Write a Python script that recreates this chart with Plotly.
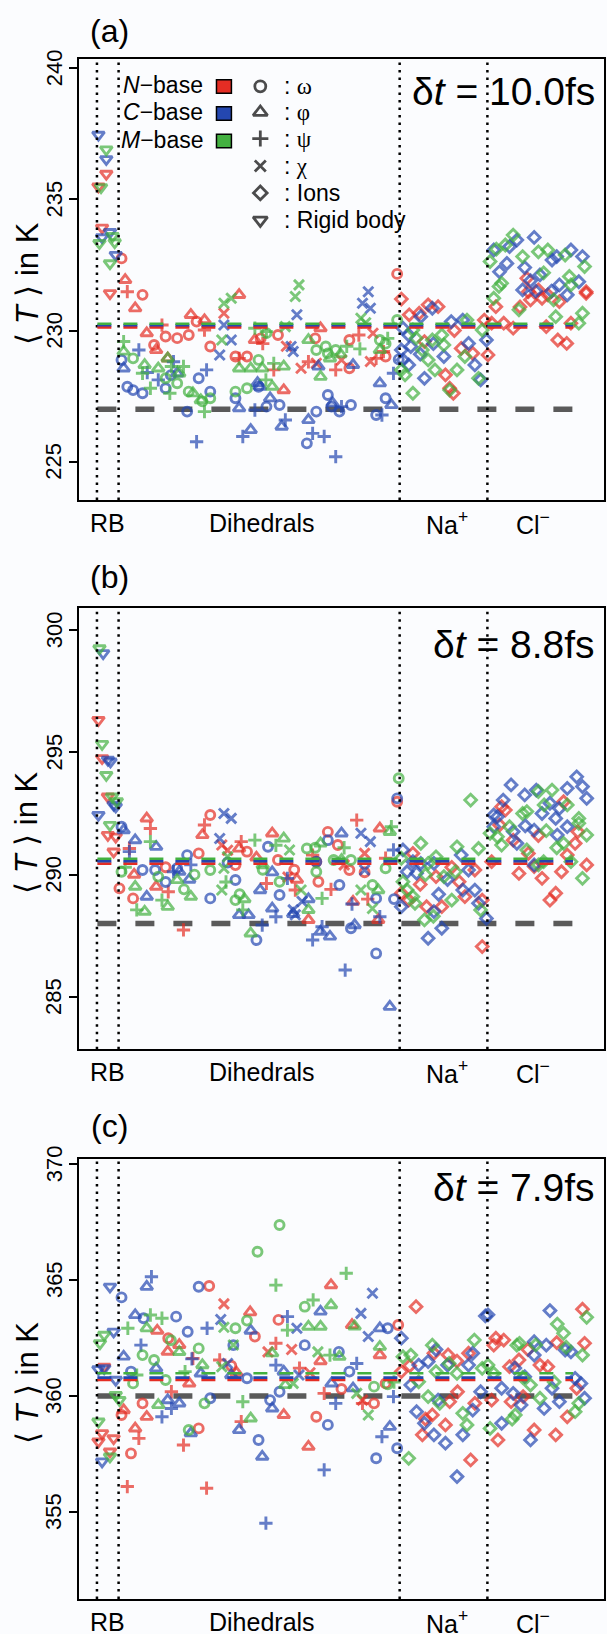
import plotly.graph_objects as go

# ---------------------------------------------------------------- page geometry
W, H = 607, 1634
ML, MR, MT, MB = 79, 1, 59, 35
PW, PH = W - ML - MR, H - MT - MB


def px_x(x):
    return (x - ML) / PW


def px_y(y):
    return (H - MB - y) / PH


def clamp01(v):
    return min(1.0, max(0.0, v))


RED, BLUE, GREEN = "#e42d24", "#2447b0", "#43b040"
BG = "#fbfcfe"
FONT = "Liberation Sans"

# ---------------------------------------------------------------- data
# each entry: (position along the degree-of-freedom axis, <T> in K, kind)
# kind: o = omega, t = phi, + = psi, x = chi, d = ion, v = rigid body

a_nbase = [
    (3.7, 235.49, "v"), (5.2, 235.97, "v"), (4.4, 233.92, "v"), (5.9, 231.42, "v"),
    (8.1, 232.75, "o"), (12.1, 231.36, "o"), (14.3, 229.45, "o"), (16.5, 229.77, "o"),
    (18.7, 229.71, "o"), (20.9, 229.83, "o"), (22.4, 230.34, "o"), (25.0, 229.39, "o"),
    (29.8, 229.01, "o"), (32.0, 229.01, "o"), (34.6, 229.70, "o"), (37.9, 229.83, "o"),
    (45.0, 229.70, "o"), (51.5, 228.56, "o"), (51.5, 229.64, "o"), (58.4, 229.01, "o"),
    (60.6, 232.16, "o"),
    (8.8, 231.93, "t"), (10.7, 230.85, "t"), (12.9, 229.90, "t"), (14.7, 229.26, "t"),
    (16.9, 228.94, "t"), (21.3, 230.60, "t"), (23.9, 230.40, "t"), (30.5, 231.36, "t"),
    (33.5, 229.64, "t"), (39.0, 227.73, "t"), (46.0, 230.09, "t"),
    (9.2, 231.48, "+"), (15.8, 230.21, "+"), (23.9, 230.02, "+"), (30.5, 228.94, "+"),
    (35.0, 229.50, "+"), (37.1, 228.50, "+"), (43.7, 228.81, "+"), (48.9, 228.50, "+"),
    (53.3, 229.83, "+"), (56.6, 228.94, "+"), (58.0, 229.20, "+"),
    (27.6, 230.66, "x"), (39.5, 229.40, "x"), (42.3, 228.56, "x"), (45.2, 228.75, "x"),
    (50.0, 228.88, "x"), (55.5, 228.82, "x"), (56.0, 229.90, "x"),
    (61.4, 231.20, "d"), (62.9, 230.60, "d"), (64.8, 230.66, "d"), (66.5, 230.98, "d"),
    (68.4, 230.91, "d"), (65.8, 229.58, "d"), (69.8, 228.31, "d"), (70.6, 227.80, "d"),
    (71.3, 227.61, "d"), (72.8, 229.32, "d"), (75.0, 229.13, "d"), (77.9, 229.07, "d"),
    (77.2, 230.40, "d"), (71.5, 230.00, "d"),
    (85.3, 231.99, "d"), (85.6, 231.48, "d"), (87.5, 231.55, "d"), (89.3, 231.36, "d"),
    (96.6, 231.48, "d"), (79.4, 230.91, "d"), (78.6, 230.28, "d"), (80.9, 230.28, "d"),
    (82.7, 230.09, "d"), (86.0, 231.17, "d"), (88.2, 231.23, "d"), (89.0, 230.15, "d"),
    (91.2, 229.64, "d"), (92.9, 229.51, "d"), (93.7, 230.28, "d"), (96.6, 231.42, "d"),
    (84.0, 230.90, "d"), (91.5, 231.10, "d"),
]

a_cbase = [
    (3.7, 237.46, "v"), (5.2, 236.53, "v"), (5.9, 233.75, "v"), (4.4, 233.55, "v"),
    (7.0, 232.88, "v"),
    (8.1, 228.88, "o"), (9.2, 227.86, "o"), (10.3, 227.73, "o"), (12.1, 227.61, "o"),
    (16.5, 227.80, "o"), (17.5, 228.30, "o"), (20.6, 226.91, "o"), (22.8, 228.18, "o"),
    (25.0, 227.67, "o"), (29.8, 227.42, "o"), (34.2, 227.86, "o"), (35.7, 227.10, "o"),
    (38.2, 227.16, "o"), (43.4, 225.70, "o"), (45.2, 226.91, "o"), (47.4, 227.54, "o"),
    (48.1, 227.10, "o"), (49.6, 226.91, "o"), (51.8, 227.16, "o"), (56.6, 226.78, "o"),
    (58.4, 227.42, "o"), (60.9, 228.90, "o"),
    (8.5, 228.56, "t"), (18.7, 228.37, "t"), (30.5, 227.04, "t"), (32.7, 226.21, "t"),
    (34.0, 228.00, "t"), (34.5, 227.86, "t"), (36.4, 227.42, "t"), (38.6, 226.34, "t"),
    (43.7, 226.59, "t"), (45.6, 228.63, "t"), (48.3, 227.23, "t"), (52.2, 228.69, "t"),
    (57.3, 227.99, "t"), (59.5, 227.16, "t"),
    (11.4, 229.26, "+"), (13.0, 228.40, "+"), (15.1, 228.12, "+"), (18.0, 228.81, "+"),
    (22.4, 225.76, "+"), (24.3, 228.50, "+"), (31.2, 225.96, "+"), (33.5, 226.97, "+"),
    (39.3, 226.59, "+"), (44.5, 226.08, "+"), (46.7, 225.96, "+"), (48.9, 225.19, "+"),
    (50.0, 227.10, "+"), (57.7, 226.78, "+"), (59.9, 228.37, "+"),
    (26.8, 229.07, "x"), (27.6, 230.21, "x"), (29.0, 229.64, "x"), (40.4, 229.39, "x"),
    (40.8, 229.20, "x"), (41.5, 230.60, "x"), (54.0, 231.04, "x"), (55.1, 231.48, "x"),
    (55.5, 230.85, "x"),
    (61.7, 230.09, "d"), (62.8, 229.83, "d"), (65.1, 230.53, "d"), (67.3, 230.85, "d"),
    (61.4, 229.26, "d"), (63.2, 229.39, "d"), (61.7, 228.88, "d"), (62.8, 228.69, "d"),
    (65.8, 228.18, "d"), (69.5, 229.01, "d"), (70.9, 230.34, "d"), (73.1, 230.40, "d"),
    (74.2, 229.51, "d"), (75.4, 228.69, "d"), (76.5, 228.12, "d"), (77.6, 229.64, "d"),
    (67.5, 229.50, "d"), (65.0, 229.10, "d"),
    (79.0, 233.07, "d"), (80.1, 232.24, "d"), (81.5, 232.56, "d"), (83.4, 233.45, "d"),
    (82.0, 233.20, "d"), (84.9, 232.40, "d"), (86.7, 233.55, "d"), (87.8, 232.12, "d"),
    (90.1, 232.69, "d"), (91.0, 232.82, "d"), (93.7, 233.07, "d"), (95.9, 232.82, "d"),
    (95.2, 231.86, "d"), (91.5, 231.74, "d"), (84.5, 231.55, "d"), (87.0, 231.50, "d"),
    (90.0, 231.50, "d"), (93.0, 231.36, "d"), (86.0, 231.90, "d"),
]

a_mbase = [
    (5.2, 236.90, "v"), (4.2, 235.46, "v"), (3.9, 233.33, "v"), (6.8, 233.36, "v"),
    (6.4, 233.60, "v"), (5.9, 232.56, "v"),
    (10.3, 228.94, "o"), (16.5, 228.18, "o"), (18.7, 227.99, "o"), (20.9, 227.67, "o"),
    (23.5, 227.30, "o"), (25.0, 227.42, "o"), (29.8, 227.67, "o"), (32.0, 227.80, "o"),
    (34.2, 228.88, "o"), (35.7, 229.90, "o"), (45.2, 229.26, "o"), (47.0, 229.39, "o"),
    (47.4, 229.13, "o"), (48.9, 229.26, "o"), (57.3, 229.64, "o"), (58.4, 229.50, "o"),
    (60.6, 230.40, "o"),
    (8.5, 229.20, "t"), (12.5, 228.69, "t"), (15.1, 228.56, "t"), (16.9, 228.94, "t"),
    (19.1, 228.37, "t"), (21.7, 227.61, "t"), (23.2, 227.35, "t"), (30.5, 228.56, "t"),
    (32.7, 228.56, "t"), (34.9, 228.56, "t"), (36.8, 227.86, "t"), (39.0, 228.63, "t"),
    (43.7, 229.64, "t"), (46.0, 228.24, "t"), (47.8, 228.94, "t"), (49.8, 229.10, "t"),
    (57.3, 229.26, "t"),
    (8.5, 229.58, "+"), (12.1, 228.37, "+"), (13.6, 227.80, "+"), (17.3, 227.61, "+"),
    (17.6, 228.63, "+"), (19.9, 228.63, "+"), (23.9, 226.91, "+"), (33.5, 230.09, "+"),
    (35.6, 228.12, "+"), (35.7, 229.96, "+"), (37.1, 228.75, "+"), (51.0, 229.40, "+"),
    (53.5, 229.30, "+"), (58.8, 229.70, "+"),
    (27.2, 229.64, "x"), (27.6, 231.04, "x"), (29.0, 231.23, "x"), (39.3, 230.15, "x"),
    (41.2, 231.30, "x"), (41.9, 231.74, "x"), (53.7, 230.47, "x"), (54.6, 230.30, "x"),
    (63.6, 230.02, "d"), (64.2, 229.71, "d"), (65.4, 229.26, "d"), (66.5, 228.88, "d"),
    (67.3, 229.64, "d"), (69.1, 229.83, "d"), (69.5, 229.45, "d"), (61.4, 228.50, "d"),
    (62.1, 228.31, "d"), (63.6, 227.61, "d"), (67.8, 228.50, "d"), (70.6, 227.73, "d"),
    (73.9, 230.40, "d"), (73.5, 229.01, "d"), (72.0, 228.50, "d"), (76.1, 228.18, "d"),
    (76.8, 230.02, "d"),
    (78.3, 232.63, "d"), (79.5, 233.10, "d"), (80.5, 231.80, "d"), (81.2, 233.26, "d"),
    (82.7, 233.64, "d"), (84.5, 232.82, "d"), (87.5, 233.00, "d"), (89.3, 233.07, "d"),
    (92.6, 232.88, "d"), (96.3, 232.44, "d"), (93.4, 232.06, "d"), (93.7, 231.74, "d"),
    (79.0, 231.23, "d"), (80.0, 231.68, "d"), (83.8, 230.79, "d"), (90.4, 231.17, "d"),
    (90.8, 230.53, "d"), (95.2, 230.28, "d"), (95.9, 230.66, "d"), (88.5, 232.20, "d"),
]

b_nbase = [
    (3.7, 296.32, "v"), (4.4, 294.76, "v"), (5.5, 293.19, "v"), (5.5, 291.62, "v"),
    (7.0, 291.55, "v"), (6.6, 290.94, "v"),
    (7.7, 289.44, "o"), (10.3, 289.03, "o"), (16.5, 290.30, "o"), (22.8, 290.87, "o"),
    (25.0, 292.44, "o"), (29.8, 290.39, "o"), (32.0, 290.94, "o"), (37.9, 290.60, "o"),
    (41.0, 290.20, "o"), (45.2, 290.53, "o"), (45.6, 289.71, "o"), (47.4, 291.75, "o"),
    (49.3, 291.21, "o"), (51.5, 290.19, "o"), (54.4, 290.10, "o"), (60.6, 292.98, "o"),
    (10.5, 290.00, "t"), (12.9, 292.30, "t"), (14.7, 289.51, "t"), (23.5, 291.62, "t"),
    (30.5, 291.07, "t"), (33.8, 290.70, "t"), (36.8, 291.69, "t"), (41.5, 289.80, "t"),
    (43.7, 288.15, "t"), (52.2, 288.90, "t"), (57.0, 288.15, "t"), (57.3, 291.89, "t"),
    (9.6, 291.07, "+"), (13.6, 291.89, "+"), (17.0, 289.30, "+"), (19.9, 287.74, "+"),
    (23.9, 292.03, "+"), (30.9, 291.35, "+"), (35.7, 289.64, "+"), (41.2, 289.37, "+"),
    (44.5, 290.80, "+"), (48.0, 289.40, "+"), (52.9, 292.23, "+"), (55.0, 289.00, "+"),
    (58.4, 290.67, "+"),
    (27.2, 291.21, "x"), (28.3, 291.00, "x"), (39.8, 289.90, "x"), (50.5, 290.40, "x"),
    (54.4, 290.87, "x"),
    (61.4, 289.24, "d"), (62.8, 288.96, "d"), (63.6, 290.87, "d"), (65.0, 289.60, "d"),
    (66.2, 288.69, "d"), (68.0, 289.92, "d"), (69.1, 288.69, "d"), (71.0, 290.30, "d"),
    (72.4, 289.71, "d"), (73.5, 289.10, "d"), (75.4, 290.19, "d"), (76.8, 288.96, "d"),
    (76.8, 287.06, "d"),
    (80.5, 292.78, "d"), (81.2, 292.64, "d"), (80.1, 292.03, "d"), (82.7, 291.41, "d"),
    (85.6, 290.87, "d"), (86.7, 290.33, "d"), (83.8, 290.05, "d"), (88.2, 289.85, "d"),
    (89.7, 288.96, "d"), (90.8, 289.24, "d"), (93.0, 290.80, "d"), (94.5, 291.28, "d"),
    (95.0, 291.76, "d"), (96.7, 290.40, "d"), (91.9, 290.12, "d"), (92.3, 292.98, "d"),
    (78.6, 290.53, "d"), (87.5, 291.60, "d"),
]

b_cbase = [
    (4.6, 299.05, "v"), (5.5, 294.69, "v"), (6.0, 294.62, "v"), (7.0, 292.78, "v"),
    (3.7, 292.44, "v"), (6.6, 292.85, "v"),
    (8.1, 291.96, "o"), (12.1, 290.19, "o"), (14.5, 290.19, "o"), (16.5, 289.70, "o"),
    (18.7, 290.26, "o"), (20.6, 290.80, "o"), (25.0, 289.03, "o"), (28.3, 290.50, "o"),
    (29.8, 289.78, "o"), (33.8, 287.33, "o"), (36.0, 291.14, "o"), (38.2, 289.17, "o"),
    (45.2, 290.53, "o"), (47.4, 291.41, "o"), (49.6, 289.58, "o"), (51.8, 287.81, "o"),
    (56.6, 289.03, "o"), (56.6, 286.78, "o"), (60.0, 289.00, "o"), (60.6, 293.12, "o"),
    (8.5, 291.82, "t"), (10.7, 291.41, "t"), (12.9, 289.10, "t"), (14.7, 291.14, "t"),
    (19.1, 290.12, "t"), (21.0, 289.80, "t"), (30.5, 288.35, "t"), (32.3, 288.35, "t"),
    (34.5, 289.37, "t"), (36.8, 288.62, "t"), (36.8, 290.10, "t"), (40.8, 288.40, "t"),
    (43.7, 289.00, "t"), (46.0, 287.67, "t"), (47.8, 287.47, "t"), (50.0, 291.69, "t"),
    (52.5, 287.94, "t"), (59.2, 284.60, "t"),
    (9.6, 290.94, "+"), (18.0, 290.12, "+"), (21.3, 290.40, "+"), (34.9, 287.94, "+"),
    (37.5, 288.28, "+"), (39.7, 289.85, "+"), (44.5, 287.33, "+"), (46.3, 287.87, "+"),
    (50.7, 286.10, "+"), (52.0, 288.80, "+"), (57.3, 288.28, "+"), (59.9, 291.01, "+"),
    (26.8, 291.48, "x"), (27.6, 292.50, "x"), (29.0, 292.30, "x"), (40.8, 288.56, "x"),
    (41.2, 288.36, "x"), (42.5, 288.90, "x"), (53.7, 291.69, "x"), (54.4, 290.19, "x"),
    (55.5, 291.35, "x"),
    (61.7, 291.01, "d"), (63.6, 290.53, "d"), (65.1, 290.46, "d"), (67.6, 290.46, "d"),
    (62.5, 290.12, "d"), (64.3, 290.06, "d"), (61.4, 288.69, "d"), (67.6, 288.49, "d"),
    (69.1, 287.81, "d"), (66.5, 287.40, "d"), (70.2, 289.80, "d"), (72.8, 290.80, "d"),
    (73.1, 289.37, "d"), (74.2, 290.19, "d"), (75.4, 289.37, "d"), (76.1, 288.83, "d"),
    (77.6, 288.21, "d"), (68.5, 289.20, "d"),
    (82.3, 293.67, "d"), (80.8, 293.05, "d"), (79.0, 292.44, "d"), (84.9, 293.26, "d"),
    (87.1, 293.46, "d"), (94.8, 294.00, "d"), (95.9, 293.60, "d"), (96.7, 293.12, "d"),
    (93.0, 293.53, "d"), (91.5, 292.71, "d"), (89.7, 292.92, "d"), (79.7, 292.37, "d"),
    (79.0, 291.96, "d"), (82.7, 291.76, "d"), (83.4, 291.28, "d"), (86.7, 291.82, "d"),
    (88.2, 292.50, "d"), (90.8, 292.30, "d"), (91.1, 291.62, "d"), (93.0, 291.96, "d"),
    (86.7, 290.40, "d"), (85.0, 292.00, "d"),
]

b_mbase = [
    (3.9, 299.25, "v"), (4.4, 295.34, "v"), (5.2, 294.07, "v"), (6.3, 293.19, "v"),
    (7.2, 293.00, "v"), (5.9, 292.03, "v"),
    (8.1, 290.12, "o"), (15.1, 289.92, "o"), (20.0, 289.40, "o"), (22.0, 290.00, "o"),
    (25.0, 290.19, "o"), (29.8, 288.96, "o"), (30.6, 289.20, "o"), (35.0, 290.20, "o"),
    (38.2, 289.71, "o"), (43.4, 291.07, "o"), (45.0, 291.10, "o"), (45.2, 290.12, "o"),
    (48.5, 290.60, "o"), (51.8, 290.60, "o"), (55.9, 289.58, "o"), (58.4, 290.26, "o"),
    (60.9, 293.94, "o"),
    (10.7, 289.51, "t"), (12.5, 288.49, "t"), (16.9, 288.69, "t"), (18.7, 289.78, "t"),
    (21.3, 289.10, "t"), (31.5, 289.00, "t"), (32.7, 287.60, "t"), (35.0, 290.39, "t"),
    (39.0, 291.48, "t"), (43.7, 288.56, "t"), (46.0, 291.28, "t"), (50.0, 290.60, "t"),
    (57.0, 289.37, "t"), (59.2, 291.75, "t"),
    (8.8, 290.30, "+"), (11.0, 288.56, "+"), (13.6, 291.35, "+"), (15.8, 288.96, "+"),
    (28.0, 289.70, "+"), (31.2, 288.56, "+"), (33.5, 291.41, "+"), (37.5, 291.20, "+"),
    (46.3, 289.03, "+"), (50.5, 291.10, "+"), (59.5, 291.96, "+"),
    (27.2, 289.37, "x"), (28.3, 290.73, "x"), (27.6, 290.26, "x"), (40.1, 291.01, "x"),
    (42.3, 289.37, "x"), (53.7, 289.37, "x"), (55.9, 288.62, "x"),
    (61.4, 290.67, "d"), (65.1, 291.28, "d"), (66.5, 290.46, "d"), (68.0, 290.73, "d"),
    (69.5, 289.92, "d"), (61.7, 289.71, "d"), (62.5, 289.37, "d"), (63.6, 289.10, "d"),
    (64.0, 288.83, "d"), (65.8, 288.15, "d"), (71.0, 288.96, "d"), (72.0, 291.14, "d"),
    (71.7, 290.12, "d"), (74.6, 293.05, "d"), (76.5, 288.56, "d"), (76.1, 291.07, "d"),
    (67.5, 288.30, "d"), (66.0, 290.00, "d"),
    (85.3, 292.58, "d"), (87.5, 293.40, "d"), (90.1, 293.46, "d"), (93.0, 292.85, "d"),
    (95.2, 292.30, "d"), (78.3, 291.69, "d"), (79.7, 291.55, "d"), (82.0, 291.96, "d"),
    (84.5, 292.50, "d"), (85.3, 291.01, "d"), (80.5, 291.21, "d"), (88.6, 292.85, "d"),
    (92.3, 291.28, "d"), (91.0, 291.10, "d"), (95.2, 292.10, "d"), (96.7, 291.62, "d"),
    (93.7, 290.53, "d"), (87.5, 290.40, "d"), (88.5, 290.53, "d"), (95.9, 289.85, "d"),
    (89.0, 291.80, "d"),
]

c_nbase = [
    (4.8, 361.26, "v"), (4.4, 358.39, "v"), (3.7, 358.03, "v"), (6.6, 358.17, "v"),
    (5.9, 357.60, "v"),
    (8.1, 359.18, "o"), (9.9, 357.52, "o"), (12.1, 359.68, "o"), (17.0, 362.49, "o"),
    (22.8, 358.60, "o"), (24.8, 364.74, "o"), (29.0, 361.30, "o"), (33.5, 362.56, "o"),
    (38.0, 363.28, "o"), (45.2, 359.10, "o"), (50.0, 360.30, "o"), (56.2, 359.68, "o"),
    (58.4, 360.54, "o"), (60.8, 363.06, "o"),
    (8.5, 359.39, "t"), (10.7, 358.60, "t"), (12.9, 359.10, "t"), (14.9, 362.82, "t"),
    (16.9, 361.91, "t"), (19.1, 362.20, "t"), (21.0, 360.54, "t"), (30.0, 361.00, "t"),
    (32.6, 363.61, "t"), (39.0, 359.18, "t"), (43.7, 357.81, "t"), (46.0, 361.50, "t"),
    (48.0, 364.78, "t"), (52.0, 363.06, "t"), (57.3, 361.76, "t"),
    (9.2, 356.09, "+"), (11.4, 358.17, "+"), (17.6, 360.18, "+"), (19.9, 357.88, "+"),
    (21.7, 361.62, "+"), (24.3, 356.02, "+"), (26.8, 361.55, "+"), (30.9, 358.89, "+"),
    (37.5, 362.27, "+"), (42.0, 361.20, "+"), (46.7, 360.11, "+"), (54.0, 359.68, "+"),
    (27.6, 363.97, "x"), (36.0, 361.90, "x"), (40.5, 362.00, "x"), (44.0, 361.00, "x"),
    (54.0, 359.82, "x"),
    (64.2, 363.85, "d"), (61.4, 361.05, "d"), (63.0, 361.30, "d"), (67.6, 361.84, "d"),
    (70.3, 361.77, "d"), (72.0, 361.50, "d"), (74.2, 361.84, "d"), (72.1, 360.18, "d"),
    (70.6, 359.75, "d"), (67.3, 359.18, "d"), (66.0, 359.00, "d"), (65.4, 358.32, "d"),
    (69.8, 358.75, "d"), (74.6, 357.24, "d"), (75.4, 359.68, "d"),
    (79.4, 362.49, "d"), (80.9, 362.41, "d"), (96.3, 362.27, "d"), (95.9, 363.74, "d"),
    (79.0, 362.19, "d"), (82.0, 361.26, "d"), (83.8, 361.55, "d"), (85.5, 362.00, "d"),
    (87.8, 361.33, "d"), (89.3, 361.26, "d"), (91.0, 362.30, "d"), (94.8, 360.33, "d"),
    (93.0, 359.10, "d"), (84.6, 359.97, "d"), (82.3, 359.75, "d"), (79.8, 358.10, "d"),
    (86.7, 358.53, "d"), (90.8, 358.32, "d"), (78.6, 359.82, "d"),
]

c_cbase = [
    (5.9, 364.71, "v"), (6.6, 362.77, "v"), (3.7, 361.15, "v"), (4.8, 361.19, "v"),
    (7.0, 360.69, "v"), (4.4, 357.17, "v"),
    (8.1, 364.25, "o"), (9.9, 361.05, "o"), (12.3, 363.35, "o"), (18.5, 363.42, "o"),
    (20.7, 362.77, "o"), (22.8, 364.71, "o"), (25.0, 359.90, "o"), (29.4, 362.19, "o"),
    (32.0, 360.76, "o"), (34.2, 358.10, "o"), (36.4, 359.82, "o"), (38.2, 360.18, "o"),
    (43.0, 362.19, "o"), (47.4, 358.75, "o"), (49.5, 361.90, "o"), (51.5, 361.05, "o"),
    (56.6, 357.31, "o"), (58.8, 362.92, "o"), (60.6, 357.74, "o"),
    (8.5, 361.70, "t"), (10.7, 363.49, "t"), (12.9, 364.71, "t"), (14.7, 361.19, "t"),
    (16.9, 359.82, "t"), (19.1, 359.68, "t"), (21.3, 358.39, "t"), (23.2, 360.97, "t"),
    (29.0, 360.90, "t"), (30.5, 358.53, "t"), (32.7, 362.82, "t"), (34.9, 357.38, "t"),
    (36.8, 359.46, "t"), (39.0, 361.05, "t"), (46.0, 363.64, "t"), (48.1, 360.54, "t"),
    (52.2, 360.33, "t"), (57.3, 362.92, "t"), (59.2, 358.67, "t"),
    (11.8, 362.19, "+"), (13.8, 365.14, "+"), (15.8, 359.10, "+"), (17.6, 359.46, "+"),
    (21.5, 361.60, "+"), (24.4, 362.92, "+"), (35.6, 354.51, "+"), (37.5, 361.33, "+"),
    (39.7, 363.42, "+"), (46.7, 356.81, "+"), (48.9, 359.68, "+"), (52.9, 361.40, "+"),
    (57.7, 358.24, "+"), (59.9, 359.97, "+"),
    (27.0, 363.30, "x"), (28.3, 361.40, "x"), (41.5, 362.92, "x"), (41.9, 360.90, "x"),
    (53.7, 363.56, "x"), (55.1, 362.56, "x"), (55.9, 364.43, "x"),
    (61.4, 362.49, "d"), (64.7, 361.33, "d"), (66.5, 361.48, "d"), (68.0, 362.00, "d"),
    (70.2, 361.33, "d"), (74.2, 361.33, "d"), (75.0, 361.84, "d"), (63.2, 360.47, "d"),
    (76.5, 360.18, "d"), (64.3, 359.32, "d"), (68.4, 359.82, "d"), (65.8, 358.82, "d"),
    (75.0, 359.39, "d"), (67.6, 358.32, "d"), (69.8, 357.96, "d"), (73.1, 358.32, "d"),
    (72.0, 356.52, "d"), (77.4, 363.45, "d"), (77.9, 363.50, "d"),
    (89.7, 363.68, "d"), (86.7, 362.34, "d"), (86.7, 361.76, "d"), (89.0, 362.19, "d"),
    (92.6, 361.98, "d"), (93.7, 361.90, "d"), (94.5, 360.76, "d"), (95.6, 360.54, "d"),
    (96.3, 359.90, "d"), (91.5, 359.75, "d"), (90.1, 360.33, "d"), (88.6, 359.46, "d"),
    (84.9, 360.83, "d"), (82.7, 360.11, "d"), (80.5, 360.33, "d"), (84.2, 359.61, "d"),
    (80.5, 358.82, "d"), (86.0, 358.10, "d"), (83.0, 361.20, "d"),
]

c_mbase = [
    (4.8, 362.63, "v"), (4.0, 362.27, "v"), (7.0, 360.04, "v"), (7.7, 359.82, "v"),
    (3.7, 358.89, "v"), (5.9, 357.38, "v"),
    (10.3, 360.54, "o"), (12.1, 361.76, "o"), (14.3, 361.55, "o"), (16.5, 360.69, "o"),
    (17.5, 362.40, "o"), (20.9, 358.53, "o"), (22.8, 362.05, "o"), (23.9, 359.68, "o"),
    (29.8, 362.92, "o"), (32.0, 363.25, "o"), (34.0, 366.22, "o"), (38.2, 367.37, "o"),
    (43.0, 363.85, "o"), (56.2, 360.40, "o"), (58.8, 360.50, "o"),
    (12.9, 362.92, "t"), (15.1, 359.61, "t"), (19.1, 361.90, "t"), (23.5, 361.33, "t"),
    (32.7, 359.03, "t"), (36.8, 361.84, "t"), (39.3, 360.47, "t"), (43.7, 362.99, "t"),
    (46.0, 362.99, "t"), (48.0, 363.92, "t"), (49.6, 361.69, "t"), (52.5, 363.00, "t"),
    (57.3, 362.12, "t"),
    (9.3, 362.92, "+"), (11.0, 360.90, "+"), (13.6, 363.49, "+"), (15.8, 363.35, "+"),
    (20.2, 361.05, "+"), (31.2, 359.75, "+"), (37.5, 364.78, "+"), (39.7, 362.84, "+"),
    (44.6, 364.14, "+"), (47.8, 361.76, "+"), (50.9, 365.29, "+"), (60.0, 360.60, "+"),
    (27.2, 361.26, "x"), (27.6, 362.96, "x"), (29.4, 362.20, "x"), (40.8, 360.54, "x"),
    (45.5, 361.90, "x"), (52.9, 360.11, "x"), (55.1, 359.18, "x"),
    (61.7, 361.69, "d"), (63.2, 361.76, "d"), (67.3, 362.19, "d"), (68.0, 361.05, "d"),
    (70.5, 361.40, "d"), (72.0, 360.97, "d"), (76.8, 361.19, "d"), (64.7, 360.61, "d"),
    (66.5, 359.97, "d"), (68.7, 359.68, "d"), (73.1, 359.25, "d"), (73.9, 358.75, "d"),
    (62.8, 357.31, "d"), (75.3, 362.41, "d"),
    (96.7, 363.39, "d"), (91.1, 363.10, "d"), (92.3, 362.70, "d"), (83.9, 362.27, "d"),
    (87.0, 362.20, "d"), (79.0, 360.97, "d"), (77.9, 361.33, "d"), (83.4, 362.19, "d"),
    (92.8, 362.10, "d"), (95.9, 361.76, "d"), (95.2, 359.68, "d"), (94.5, 359.32, "d"),
    (87.8, 359.90, "d"), (86.0, 360.47, "d"), (84.5, 360.80, "d"), (83.1, 359.18, "d"),
    (78.3, 358.60, "d"), (82.5, 359.00, "d"), (90.5, 360.60, "d"),
]

# reference temperatures (horizontal dashed lines), one value per panel
ref_target = [227.0, 288.0, 360.0]
ref_nbase = [230.12, 290.45, 360.69]
ref_cbase = [230.20, 290.55, 360.79]
ref_mbase = [230.26, 290.65, 360.98]

time_steps = ["10.0", "8.8", "7.9"]
panel_tags = ["(a)", "(b)", "(c)"]
y_ticks = [[225, 230, 235, 240], [285, 290, 295, 300], [355, 360, 365, 370]]

# group boundaries and group names along the horizontal axis
group_bounds = [3.42, 7.54, 61.08, 77.79]
group_names = ["RB", "Dihedrals", "Na<sup>+</sup>", "Cl<sup>\u2212</sup>"]
group_name_pos = [5.5, 34.8, 70.0, 86.5]

# ---------------------------------------------------------------- styling
SYMBOL = {"o": "circle-open", "t": "triangle-up-open", "+": "cross-thin-open",
          "x": "x-thin-open", "d": "diamond-open", "v": "triangle-down-open"}
SIZE = {"o": 9, "t": 10.5, "+": 9.5, "x": 10, "d": 9, "v": 10.5}
STROKE = 2.9

panels = [
    dict(top=59.3, bottom=500.0, yrange=[223.54, 240.34], tag_y=31, dt_y=91,
         series=[a_nbase, a_cbase, a_mbase]),
    dict(top=608.3, bottom=1049.3, yrange=[282.86, 300.89], tag_y=577, dt_y=644,
         series=[b_nbase, b_cbase, b_mbase]),
    dict(top=1159.0, bottom=1599.0, yrange=[351.24, 370.22], tag_y=1126, dt_y=1187,
         series=[c_nbase, c_cbase, c_mbase]),
]
colors = [RED, BLUE, GREEN]
base_names = ["<i>N</i>\u2212base", "<i>C</i>\u2212base", "<i>M</i>\u2212base"]

fig = go.Figure()
shapes, annotations = [], []
X_START, X_END = 3.5, 94.1

for i, p in enumerate(panels):
    sfx = "" if i == 0 else str(i + 1)
    xref, yref = "x" + sfx, "y" + sfx
    for series, col in zip(p["series"], colors):
        fig.add_trace(go.Scatter(
            x=[s[0] for s in series], y=[s[1] for s in series],
            mode="markers", xaxis=xref, yaxis=yref, showlegend=False,
            marker=dict(symbol=[SYMBOL[s[2]] for s in series],
                        size=[SIZE[s[2]] for s in series],
                        color=col, line=dict(color=col, width=STROKE)),
        ))
    dom = [clamp01(px_y(p["bottom"])), clamp01(px_y(p["top"]))]
    axis_line = dict(showline=True, mirror=True, linecolor="black", linewidth=2,
                     showgrid=False, zeroline=False)
    fig.layout["xaxis" + sfx] = dict(domain=[0, 1], range=[0, 100], anchor=yref,
                                     ticks="", showticklabels=False, **axis_line)
    fig.layout["yaxis" + sfx] = dict(domain=dom, range=p["yrange"], anchor=xref,
                                     tickvals=y_ticks[i], ticks="outside", ticklen=8,
                                     tickwidth=2, tickcolor="black",
                                     showticklabels=False, **axis_line)
    # rotated tick labels
    for tv in y_ticks[i]:
        annotations.append(dict(text=str(tv), textangle=-90, xref="paper", yref=yref,
                                x=px_x(54), y=tv, showarrow=False,
                                xanchor="center", yanchor="middle",
                                font=dict(size=22, color="black", family=FONT)))
    # group separators
    for gx in group_bounds:
        shapes.append(dict(type="line", xref=xref, yref=yref + " domain",
                           x0=gx, x1=gx, y0=0, y1=1, layer="above",
                           line=dict(color="black", width=2.5, dash="2.5px,5px")))
    # reference temperatures
    shapes.append(dict(type="line", xref=xref, yref=yref, x0=X_START, x1=X_END,
                       y0=ref_target[i], y1=ref_target[i], layer="below",
                       line=dict(color="#5a5a5a", width=5.5, dash="19px,19px")))
    for ref, col in zip([ref_nbase, ref_cbase, ref_mbase], colors):
        shapes.append(dict(type="line", xref=xref, yref=yref, x0=X_START, x1=X_END,
                           y0=ref[i], y1=ref[i], layer="above",
                           line=dict(color=col, width=2.6, dash="14px,12px")))
    # texts
    annotations.append(dict(text=panel_tags[i], xref="paper", yref="paper",
                            x=px_x(110), y=px_y(p["tag_y"]), showarrow=False,
                            xanchor="center", yanchor="middle",
                            font=dict(size=32, color="black", family=FONT)))
    annotations.append(dict(text="\u03b4<i>t</i> = " + time_steps[i] + "fs",
                            xref="paper", yref="paper", x=px_x(599), y=px_y(p["dt_y"]),
                            showarrow=False, xanchor="right", yanchor="middle",
                            font=dict(size=39, color="black", family=FONT)))
    annotations.append(dict(text="\u27e8 <i>T</i> \u27e9 in K", textangle=-90,
                            xref="paper", yref="paper", x=px_x(27),
                            y=px_y((p["top"] + p["bottom"]) / 2 + 4), showarrow=False,
                            xanchor="center", yanchor="middle",
                            font=dict(size=31, color="black", family=FONT)))
    for name, gx in zip(group_names, group_name_pos):
        annotations.append(dict(text=name, xref=xref, yref="paper", x=gx,
                                y=px_y(p["bottom"] + 23), showarrow=False,
                                xanchor="center", yanchor="middle",
                                font=dict(size=25, color="black", family=FONT)))

# ---------------------------------------------------------------- key (pixel space overlay on panel a)
fig.layout["xaxis4"] = dict(overlaying="x", range=[ML, W - MR], visible=False, anchor="y4")
fig.layout["yaxis4"] = dict(overlaying="y", range=[500, MT], visible=False, anchor="x4")

key_rows = [85, 112, 139.5]
for name, col, ky in zip(base_names, colors, key_rows):
    annotations.append(dict(text=name, xref="x4", yref="y4", x=205, y=ky,
                            showarrow=False, xanchor="right", yanchor="middle",
                            font=dict(size=23, color="black", family=FONT)))
    shapes.append(dict(type="rect", xref="x4", yref="y4", x0=217, x1=232,
                       y0=ky - 5.5, y1=ky + 8, fillcolor=col,
                       line=dict(color="black", width=1.5)))

key_kinds = ["o", "t", "+", "x", "d", "v"]
key_labels = ["<span style='font-family:Liberation Serif'>\u03c9</span>",
              "<span style='font-family:Liberation Serif'>\u03c6</span>",
              "<span style='font-family:Liberation Serif'>\u03c8</span>",
              "<span style='font-family:Liberation Serif'>\u03c7</span>",
              "Ions", "Rigid body"]
key_sym_y = [86, 112, 138.3, 165.7, 192.7, 220]
key_size = {"o": 11, "t": 12.5, "+": 11.5, "x": 11, "d": 10.5, "v": 12.5}
fig.add_trace(go.Scatter(
    x=[261] * len(key_kinds), y=key_sym_y, xaxis="x4", yaxis="y4",
    mode="markers", showlegend=False, cliponaxis=False,
    marker=dict(symbol=[SYMBOL[k] for k in key_kinds],
                size=[key_size[k] for k in key_kinds],
                color="black", line=dict(color="black", width=2.8)),
))
for lab, ky in zip(key_labels, key_sym_y):
    annotations.append(dict(text=": " + lab, xref="x4", yref="y4", x=283, y=ky,
                            showarrow=False, xanchor="left", yanchor="middle",
                            font=dict(size=23, color="black", family=FONT)))

fig.update_layout(
    width=W, height=H, margin=dict(l=ML, r=MR, t=MT, b=MB),
    paper_bgcolor=BG, plot_bgcolor=BG, shapes=shapes, annotations=annotations,
    showlegend=False, font=dict(family=FONT, color="black"),
)

fig.write_html("out.html", config={"displayModeBar": False})
